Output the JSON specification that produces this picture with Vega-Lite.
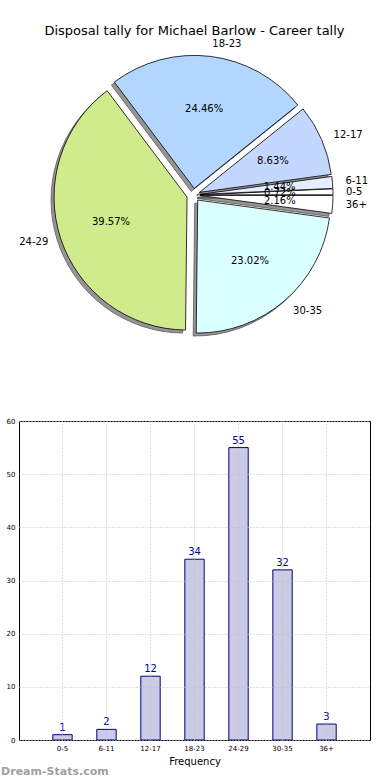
{
  "$schema": "https://vega.github.io/schema/vega-lite/v6.json",
  "autosize": {"type": "pad"},
  "padding": {"left": 0, "top": 25, "right": 0, "bottom": 0},
  "background": "white",
  "bounds": "flush",
  "spacing": 67,
  "config": {"font": "DejaVu Sans", "view": {"stroke": null}},
  "datasets": {
    "tally": [
      {"label": "0-5", "count": 1},
      {"label": "6-11", "count": 2},
      {"label": "12-17", "count": 12},
      {"label": "18-23", "count": 34},
      {"label": "24-29", "count": 55},
      {"label": "30-35", "count": 32},
      {"label": "36+", "count": 3}
    ]
  },
  "vconcat": [
    {
      "width": 351,
      "height": 318,
      "title": {"text": "Disposal tally for Michael Barlow - Career tally", "fontSize": 13, "fontWeight": "normal", "color": "black", "offset": -2, "anchor": "middle"},
      "data": {"name": "tally"},
      "transform": [
        {"window": [{"op": "sum", "field": "count", "as": "cum"}], "frame": [null, 0]},
        {"joinaggregate": [{"op": "sum", "field": "count", "as": "total"}]},
        {"calculate": "2*PI*(datum.cum - datum.count)/datum.total", "as": "a0"},
        {"calculate": "2*PI*datum.cum/datum.total", "as": "a1"},
        {"calculate": "(datum.a0 + datum.a1)/2", "as": "m"},
        {"calculate": "PI/2 - datum.a1", "as": "s"},
        {"calculate": "PI/2 - datum.a0", "as": "e"},
        {"calculate": "PI/2 - datum.m", "as": "t"},
        {"calculate": "0.05*cos(datum.m)", "as": "ex"},
        {"calculate": "0.05*sin(datum.m)", "as": "ey"},
        {"calculate": "format(datum.count/datum.total*100, '.2f') + '%'", "as": "pct"}
      ],
      "encoding": {
        "x": {"field": "ex", "type": "quantitative", "scale": {"domain": [-1.311, 1.328], "nice": false, "zero": false}, "axis": null},
        "y": {"field": "ey", "type": "quantitative", "scale": {"domain": [-1.1955, 1.1955], "nice": false, "zero": false}, "axis": null}
      },
      "layer": [
        {
          "mark": {"type": "arc", "radius": 133, "fill": "#959595", "stroke": "#5c5c5c", "strokeWidth": 0.8, "xOffset": -3, "yOffset": 3},
          "encoding": {
            "theta": {"field": "s", "type": "quantitative", "scale": null, "stack": null},
            "theta2": {"field": "e"}
          }
        },
        {
          "mark": {"type": "arc", "radius": 133, "stroke": "black", "strokeWidth": 0.8},
          "encoding": {
            "theta": {"field": "s", "type": "quantitative", "scale": null, "stack": null},
            "theta2": {"field": "e"},
            "fill": {"field": "label", "type": "nominal", "legend": null,
              "scale": {"domain": ["0-5", "6-11", "12-17", "18-23", "24-29", "30-35", "36+"],
                        "range": ["#ffffff", "#e6eeff", "#c4d8ff", "#b3d6ff", "#d0eb8b", "#daffff", "#ffffff"]}}
          }
        },
        {
          "mark": {"type": "text", "radius": 80, "fontSize": 10, "color": "black", "align": "center", "baseline": "middle"},
          "encoding": {
            "theta": {"field": "t", "type": "quantitative", "scale": null, "stack": null},
            "text": {"field": "pct"}
          }
        },
        {
          "transform": [{"filter": "cos(datum.m) >= 0"}],
          "mark": {"type": "text", "radius": 146, "fontSize": 10, "color": "black", "align": "left", "baseline": "middle"},
          "encoding": {
            "theta": {"field": "t", "type": "quantitative", "scale": null, "stack": null},
            "text": {"field": "label"}
          }
        },
        {
          "transform": [{"filter": "cos(datum.m) < 0"}],
          "mark": {"type": "text", "radius": 146, "fontSize": 10, "color": "black", "align": "right", "baseline": "middle"},
          "encoding": {
            "theta": {"field": "t", "type": "quantitative", "scale": null, "stack": null},
            "text": {"field": "label"}
          }
        }
      ]
    },
    {
      "width": 351,
      "height": 319,
      "view": {"stroke": "black", "strokeWidth": 1},
      "title": {"text": "Dream-Stats.com", "orient": "bottom", "anchor": "start", "dx": -5, "offset": 0, "fontSize": 11, "fontWeight": "bold", "color": "#a0a0a0"},
      "data": {"name": "tally"},
      "encoding": {
        "x": {"field": "label", "type": "nominal", "sort": null,
          "scale": {"paddingInner": 0.56, "paddingOuter": 0.768},
          "axis": {"title": "Frequency", "labelAngle": 0, "labelFontSize": 7, "labelColor": "black", "titleFontSize": 10, "titleFontWeight": "normal", "titleColor": "black", "titlePadding": 5, "labelPadding": 4, "ticks": false, "domain": false, "grid": true, "gridDash": [1, 2], "gridColor": "#c0c0c0", "zindex": 1}},
        "y": {"field": "count", "type": "quantitative",
          "scale": {"domain": [0, 60], "nice": false},
          "axis": {"title": null, "values": [0, 10, 20, 30, 40, 50, 60], "labelFontSize": 7, "labelColor": "black", "labelPadding": 4, "ticks": false, "domain": false, "grid": true, "gridDash": [1, 2], "gridColor": "#c0c0c0", "zindex": 1}}
      },
      "layer": [
        {"mark": {"type": "bar", "fill": "#cbcbe3", "stroke": "#000080", "strokeWidth": 1}},
        {"mark": {"type": "text", "baseline": "bottom", "dy": -2, "fontSize": 10, "color": "#000099"},
         "encoding": {"text": {"field": "count", "type": "quantitative"}}}
      ]
    }
  ]
}
